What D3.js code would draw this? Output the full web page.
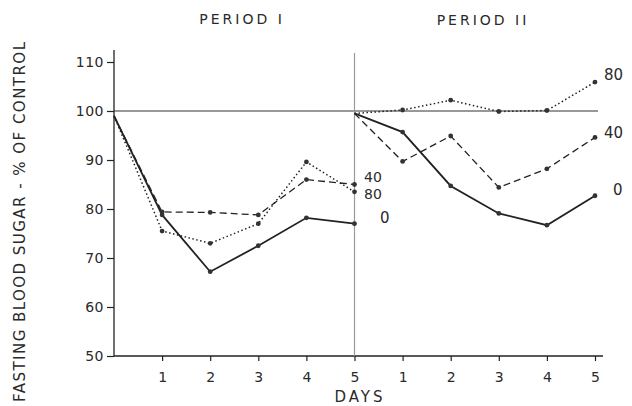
<!DOCTYPE html>
<html><head><meta charset="utf-8">
<script src="https://cdn.jsdelivr.net/npm/d3@7"></script>
<style>body{margin:0;background:#fff}svg{display:block}text{font-family:"DejaVu Sans",sans-serif;fill:#2a2a2a}</style>
</head><body><svg id="c" width="632" height="406"></svg>
<script>
const days = [0,1,2,3,4,5];
const periods = ["PERIOD I","PERIOD II"];
const doseLabels = ["0","40","80"];
// Period I values (% of control)
const p1Dose0  = [99, 78.8, 67.2, 72.5, 78.2, 77.0];
const p1Dose40 = [99, 79.4, 79.3, 78.8, 86.0, 85.0];
const p1Dose80 = [99, 75.5, 73.0, 77.0, 89.6, 83.5];
// Period II values
const p2Dose0  = [99.5, 95.7, 84.7, 79.1, 76.7, 82.7];
const p2Dose40 = [99.5, 89.7, 94.9, 84.4, 88.2, 94.6];
const p2Dose80 = [99.5, 100.2, 102.2, 99.9, 100.1, 105.9];
const yTicks = [50,60,70,80,90,100,110];
const dayTicks = [1,2,3,4,5,6,7,8,9,10];

const svg = d3.select("#c");
const x = d3.scaleLinear().domain([0,10]).range([114,595]);
const y = d3.scaleLinear().domain([50,110]).range([356,62]);
const ink = "#222";

// axes
const ya = svg.append("g").attr("transform","translate(114,0)")
  .call(d3.axisLeft(y).tickValues(yTicks).tickSize(7).tickPadding(3));
ya.select(".domain").remove();
ya.selectAll("line").attr("stroke",ink).attr("stroke-width",1.2);
ya.selectAll("text").attr("font-size",14).attr("fill","#2a2a2a").style("letter-spacing","0.5px");
svg.append("line").attr("x1",114).attr("x2",114).attr("y1",50).attr("y2",y(50)).attr("stroke",ink).attr("stroke-width",1.3);

const xa = svg.append("g").attr("transform",`translate(0,${y(50)})`)
  .call(d3.axisBottom(x).tickValues(dayTicks).tickSize(5).tickPadding(11).tickFormat(d=> d>5? d-5 : d));
xa.select(".domain").remove();
xa.selectAll("line").attr("stroke",ink).attr("stroke-width",1.2);
xa.selectAll("text").attr("font-size",14).attr("fill","#2a2a2a");
svg.append("line").attr("x1",114).attr("x2",603).attr("y1",y(50)).attr("y2",y(50)).attr("stroke",ink).attr("stroke-width",1.3);

// reference line at 100 and divider
svg.append("line").attr("x1",114).attr("x2",598).attr("y1",y(100)).attr("y2",y(100)).attr("stroke","#333").attr("stroke-width",1.1);
svg.append("line").attr("x1",x(5)).attr("x2",x(5)).attr("y1",53).attr("y2",y(50)).attr("stroke","#999").attr("stroke-width",1.2);

// series
const styles = {
  "0":  {dash:null, w:1.8},
  "40": {dash:"7,4", w:1.3},
  "80": {dash:"1.5,2.5", w:1.5}
};
const series = [
  {dose:"0", off:0, vals:p1Dose0}, {dose:"40", off:0, vals:p1Dose40}, {dose:"80", off:0, vals:p1Dose80},
  {dose:"0", off:5, vals:p2Dose0}, {dose:"40", off:5, vals:p2Dose40}, {dose:"80", off:5, vals:p2Dose80}
];
const line = d3.line().x(d=>x(d[0])).y(d=>y(d[1]));
series.forEach(s=>{
  const pts = days.map((d,i)=>[d+s.off, s.vals[i]]);
  const st = styles[s.dose];
  svg.append("path").attr("d",line(pts)).attr("fill","none").attr("stroke",ink)
    .attr("stroke-width",st.w).attr("stroke-dasharray",st.dash);
  svg.selectAll(null).data(pts.slice(1)).enter().append("circle")
    .attr("cx",d=>x(d[0])).attr("cy",d=>y(d[1])).attr("r",2.4).attr("fill","#333");
});

// dose labels
const lab = (t,xx,yy,fs)=>svg.append("text").attr("x",xx).attr("y",yy).attr("dominant-baseline","central").attr("font-size",fs||15).text(t);
lab(doseLabels[1],364,177,14); lab(doseLabels[2],364,194,14); lab(doseLabels[0],380,218);
lab(doseLabels[2],604,75); lab(doseLabels[1],604,133); lab(doseLabels[0],613,190);

// titles
svg.append("text").attr("x",242).attr("y",19).attr("text-anchor","middle").attr("dominant-baseline","central")
  .attr("font-size",14).style("letter-spacing","3px").text(periods[0]);
svg.append("text").attr("x",483).attr("y",20).attr("text-anchor","middle").attr("dominant-baseline","central")
  .attr("font-size",14).style("letter-spacing","3px").text(periods[1]);
svg.append("text").attr("x",360).attr("y",397).attr("text-anchor","middle").attr("dominant-baseline","central")
  .attr("font-size",15).style("letter-spacing","3px").text("DAYS");
svg.append("text").attr("transform","translate(20,222) rotate(-90)").attr("text-anchor","middle").attr("dominant-baseline","central")
  .attr("font-size",15).attr("textLength",360).attr("lengthAdjust","spacing").text("FASTING BLOOD SUGAR - % OF CONTROL");
</script></body></html>
